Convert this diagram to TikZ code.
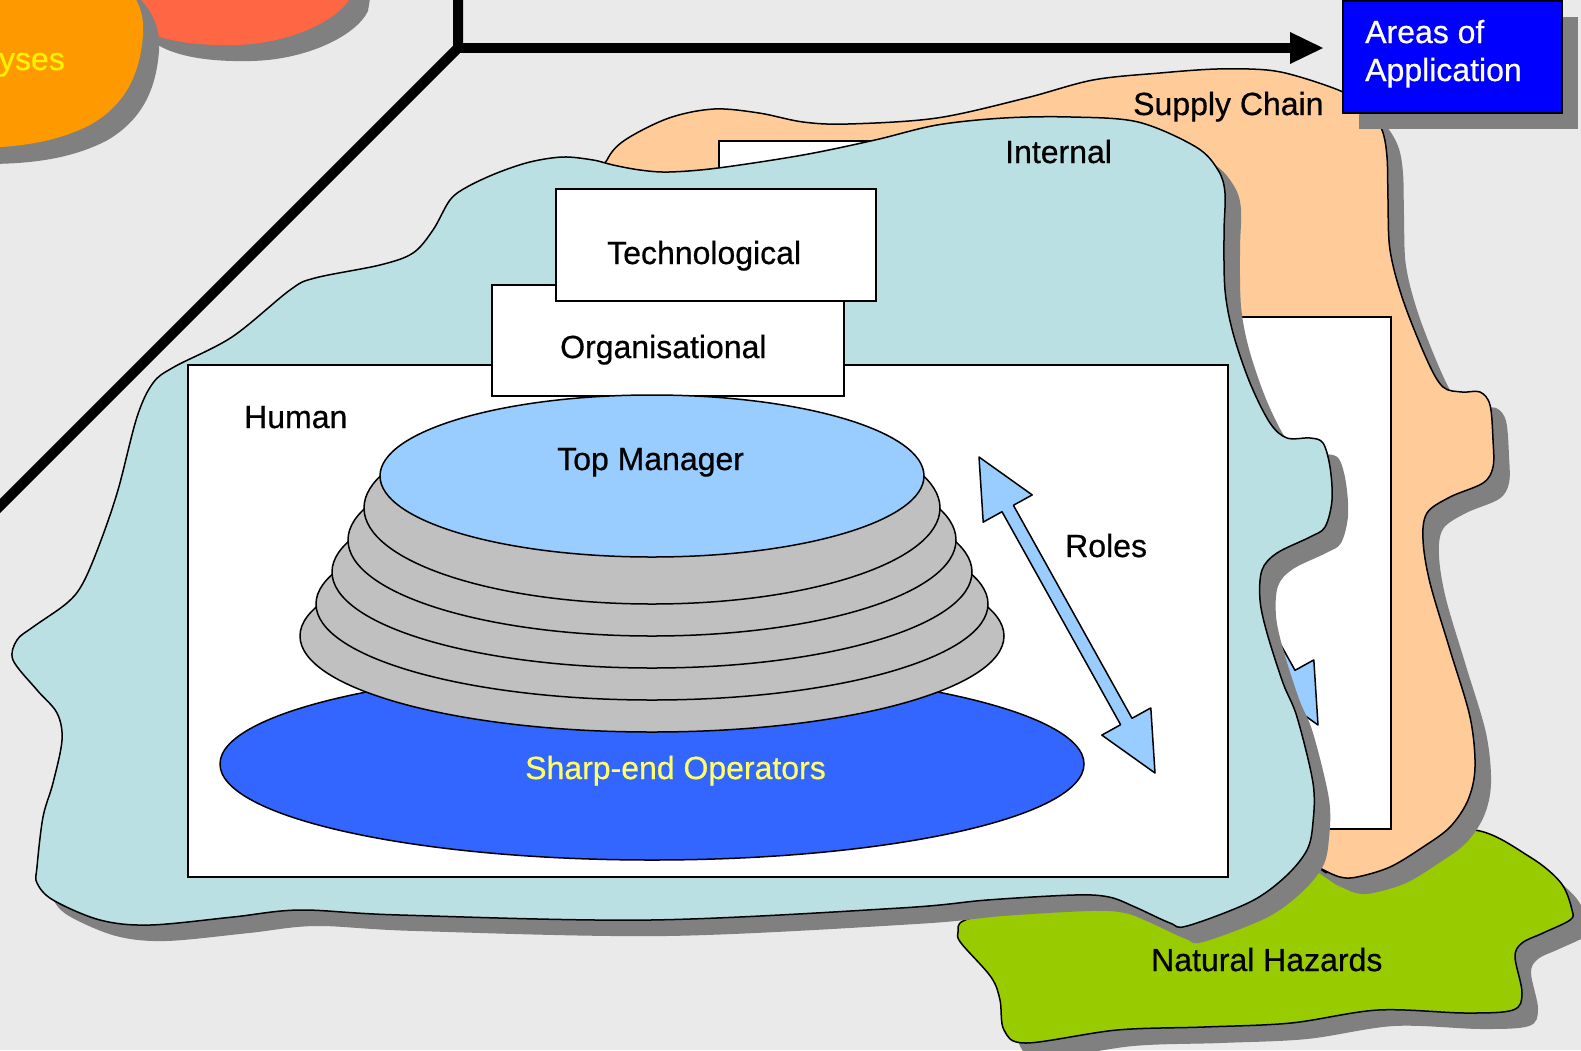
\documentclass[tikz,border=0pt]{standalone}
\usepackage{fontspec}
\setmainfont{Liberation Sans}
\newfontfamily\lblfont{Liberation Sans}[FakeBold=0.6]
\definecolor{bg}{HTML}{EAEAEA}
\definecolor{shadowgray}{HTML}{808080}
\definecolor{peach}{HTML}{FFCC99}
\definecolor{internalblue}{HTML}{BBE0E3}
\definecolor{hazardgreen}{HTML}{99CC00}
\definecolor{sharpblue}{HTML}{3366FF}
\definecolor{lightblue}{HTML}{99CCFF}
\definecolor{layergray}{HTML}{C0C0C0}
\definecolor{areablue}{HTML}{0000FF}
\definecolor{orangeblob}{HTML}{FF9900}
\definecolor{redblob}{HTML}{FF6644}
\definecolor{paleyellow}{HTML}{FFFF66}
\tikzset{
  shade16/.style={fill=shadowgray, draw=none, shift={(16,16)}},
  outl/.style={draw=black, line width=1.5pt, line join=round},
  whitebox/.style={fill=white, draw=black, line width=1.5pt},
  lbl/.style={font=\lblfont\fontsize{32}{38}\selectfont, inner sep=0pt, anchor=base west},
  thickline/.style={line width=10pt, line join=miter},
}
\def\redpath{(130,-30) -- (130,20) .. controls (150,40) and (190,46) .. (235,45) .. controls (290,44) and (340,20) .. (352,-5) -- (356,-30) -- cycle}
\def\orangepath{(-30,-30) -- (110,-30) .. controls (135,-10) and (145,10) .. (143,35) .. controls (140,75) and (125,105) .. (90,125) .. controls (60,140) and (25,148) .. (-30,148) -- cycle}
\def\greenpath{plot[smooth cycle, tension=0.55] coordinates {(963,921) (1000,912) (1100,905) (1200,890) (1300,860) (1400,845) (1474,830) (1530,857) (1561,883) (1572,910) (1570,920) (1543,933) (1522,943) (1515,957) (1522,993) (1513,1010) (1465,1013) (1378,1010) (1291,1023) (1204,1027) (1117,1030) (1026,1043) (1004,1030) (1000,1000) (991,977) (961,943) (958,932)}}
\def\peachpath{plot[smooth cycle, tension=0.55] coordinates {(607,160) (625,140) (669,118) (714,109) (759,113) (803,122) (848,124) (937,118) (1026,98) (1093,80) (1160,73) (1217,69) (1267,70) (1300,77) (1343,92) (1368,108) (1382,130) (1387,157) (1388,200) (1390,250) (1403,300) (1427,360) (1443,387) (1462,392) (1480,392) (1490,405) (1493,440) (1493,467) (1483,483) (1450,497) (1427,513) (1423,540) (1430,583) (1450,650) (1470,717) (1475,767) (1468,800) (1450,827) (1423,847) (1390,867) (1357,877) (1340,877) (1320,868) (1300,855) (1000,650) (700,300) (600,190)}}
\def\internalpath{plot[smooth cycle, tension=0.55] coordinates {(37,883) (37,867) (43,817) (53,783) (62,740) (57,713) (37,690) (13,660) (17,640) (33,627) (67,603) (83,583) (100,543) (118,490) (137,417) (153,383) (174,367) (232,337) (290,290) (315,278) (380,265) (413,253) (433,230) (450,200) (467,187) (497,173) (530,162) (563,157) (593,160) (613,165) (640,170) (669,172) (718,168) (803,155) (875,140) (937,125) (1004,118) (1071,117) (1138,122) (1196,147) (1218,170) (1225,193) (1224,233) (1225,290) (1233,333) (1250,383) (1270,423) (1287,438) (1310,438) (1323,443) (1330,467) (1332,500) (1325,527) (1310,537) (1277,553) (1262,570) (1260,600) (1267,633) (1283,683) (1297,717) (1313,783) (1313,822) (1307,850) (1285,877) (1250,902) (1187,926) (1170,923) (1135,907) (1109,897) (1074,895) (987,900) (900,908) (650,920) (400,915) (300,910) (233,917) (150,925) (100,920) (53,900)}}
\def\rolespath{(979,457) -- (1032.2,494.9) -- (1013.4,505.3) -- (1132,718.3) -- (1150.8,707.9) -- (1155,773) -- (1101.8,735.1) -- (1120.6,724.7) -- (1002,511.7) -- (983.2,522.1) -- cycle}
\begin{document}
\begin{tikzpicture}[x=1pt,y=-1pt]
\useasboundingbox (0,0) rectangle (1581,1050);
\clip (0,0) rectangle (1581,1050);
\fill[bg] (0,0) rectangle (1581,1050);

% top-left partial blobs
\fill[shade16] \redpath;
\fill[redblob] \redpath;
\fill[shade16] \orangepath;
\fill[orangeblob] \orangepath;
\node[lbl, anchor=base east, text=yellow] (yses) at (65,70) {yses};

% axis lines
\coordinate (corner) at (458,48);
\coordinate (diagend) at (-20,526);
\coordinate (vertend) at (458,-20);
\coordinate (hstart) at (453,48);
\coordinate (hend) at (1292,48);
\draw[thickline] (diagend) -- (corner) -- (vertend);
\draw[thickline] (hstart) -- (hend);
\fill (1290,32) -- (1323,48) -- (1290,64) -- cycle;

% Natural hazards layer
\fill[shade16] \greenpath;
\filldraw[fill=hazardgreen, outl] \greenpath;

% Supply chain layer
\fill[shade16] \peachpath;
\filldraw[fill=peach, outl] \peachpath;
\draw[whitebox] (351,317) rectangle (1391,829);
\draw[whitebox] (719,141) rectangle (1039,253);
\filldraw[fill=lightblue, outl, shift={(163,-48)}] \rolespath;

% Internal layer
\fill[shade16] \internalpath;
\filldraw[fill=internalblue, outl] \internalpath;
\draw[whitebox] (188,365) rectangle (1228,877);
\draw[whitebox] (492,285) rectangle (844,396);
\draw[whitebox] (556,189) rectangle (876,301);

% ellipses
\filldraw[fill=sharpblue, outl] (652,764) ellipse [x radius=432, y radius=96];
\foreach \k in {4,3,2,1,0} {
  \filldraw[fill=layergray, outl] (652,{508+32*\k}) ellipse [x radius={288+16*\k}, y radius=96];
}
\filldraw[fill=lightblue, outl] (652,476) ellipse [x radius=272, y radius=81];

% roles arrow
\filldraw[fill=lightblue, outl] \rolespath;

% labels
\node[lbl] (tech) at (607,264) {Technological};
\node[lbl] (org) at (560,358) {Organisational};
\node[lbl] (human) at (244,428) {Human};
\node[lbl] (topman) at (557,470) {Top Manager};
\node[lbl, text=paleyellow] (sharp) at (525,779) {Sharp-end Operators};
\node[lbl] (roles) at (1065,557) {Roles};
\node[lbl] (internal) at (1005,163) {Internal};
\node[lbl] (supply) at (1133,115) {Supply Chain};
\node[lbl] (natural) at (1151,971) {Natural Hazards};

% Areas of application box
\fill[shadowgray] (1359,17) rectangle (1578,129);
\draw[fill=areablue, draw=black, line width=1.5pt] (1343,1) rectangle (1562,113);
\node[lbl, text=white] (areas1) at (1365,43) {Areas of};
\node[lbl, text=white] (areas2) at (1365,81) {Application};
\end{tikzpicture}
\end{document}
